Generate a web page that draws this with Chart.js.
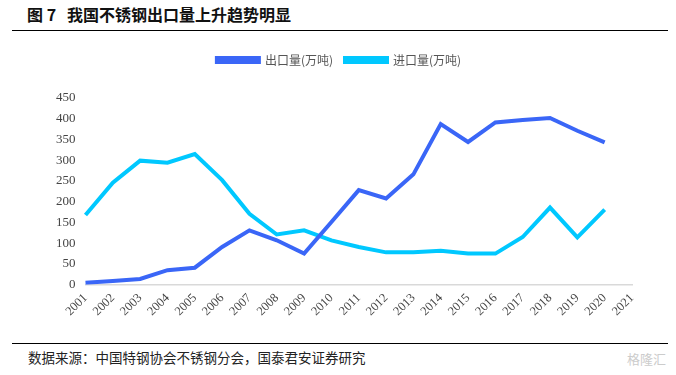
<!DOCTYPE html>
<html>
<head>
<meta charset="utf-8">
<script src="https://cdn.jsdelivr.net/npm/chart.js@4"></script>
<style>
  body { margin: 0; width: 676px; height: 375px; background: #fff; position: relative; overflow: hidden; }
  #title { position: absolute; left: 27px; top: 2px; font: bold 16px "Noto Sans CJK SC"; color: #111; }
  #topline { position: absolute; left: 12px; right: 8px; top: 30px; border-top: 1.5px solid #000; }
  #bottomline { position: absolute; left: 12px; right: 8px; top: 343px; border-top: 1px solid #000; }
  #source { position: absolute; left: 28px; top: 347px; font: 13.5px "Noto Sans CJK SC"; color: #222; }
  #mark { position: absolute; right: 10px; top: 349px; font: 13px "Noto Sans CJK SC"; color: #ccc; }
  #wrap { position: absolute; left: 0; top: 40px; width: 676px; height: 300px; }
</style>
</head>
<body>
<div id="title">图 7&nbsp;&nbsp;&nbsp;我国不锈钢出口量上升趋势明显</div>
<div id="topline"></div>
<div id="wrap"><canvas id="chart"></canvas></div>
<div id="bottomline"></div>
<div id="source">数据来源：中国特钢协会不锈钢分会，国泰君安证券研究</div>
<div id="mark">格隆汇</div>
<script>
// 年份
const years = ['2001','2002','2003','2004','2005','2006','2007','2008','2009','2010','2011',
               '2012','2013','2014','2015','2016','2017','2018','2019','2020','2021'];
// 出口量(万吨)
const exportVol = [5, 9, 14, 35, 41, 91, 131, 107, 75, 151, 228, 208, 266, 387, 344, 391, 397, 402, 371, 343, null];
// 进口量(万吨)
const importVol = [168, 246, 299, 294, 315, 252, 171, 121, 131, 107, 91, 78, 78, 82, 75, 75, 115, 186, 114, 181, null];

const serif = '"Liberation Serif", "Times New Roman", serif';

// 图例与绘图区之间留出空隙
const legendGap = {
    id: 'legendGap',
    beforeInit(chart) {
        const fit = chart.legend.fit;
        chart.legend.fit = function() {
            fit.bind(chart.legend)();
            this.height += 22;
        };
    }
};

const ctx = document.getElementById('chart').getContext('2d');
new Chart(ctx, {
    type: 'line',
    data: {
        labels: years,
        datasets: [{
            label: '出口量(万吨)',
            data: exportVol,
            borderColor: '#3A66F7',
            backgroundColor: '#3A66F7',
            borderWidth: 4,
            pointRadius: 0,
            tension: 0
        }, {
            label: '进口量(万吨)',
            data: importVol,
            borderColor: '#00C8FF',
            backgroundColor: '#00C8FF',
            borderWidth: 4,
            pointRadius: 0,
            tension: 0
        }]
    },
    options: {
        responsive: true,
        maintainAspectRatio: false,
        animation: false,
        layout: { padding: { left: 46, right: 44, top: 2, bottom: 15 } },
        plugins: {
            legend: {
                position: 'top',
                labels: {
                    boxWidth: 42,
                    boxHeight: 4,
                    padding: 12,
                    color: '#555',
                    font: { family: '"Noto Sans CJK SC"', size: 12 }
                }
            },
            tooltip: { enabled: false }
        },
        scales: {
            x: {
                grid: { display: false, drawTicks: false },
                border: { color: '#d9d9d9', width: 1.5 },
                ticks: {
                    maxRotation: 45,
                    minRotation: 45,
                    color: '#444',
                    padding: 6,
                    font: { family: serif, size: 12.5 }
                }
            },
            y: {
                min: 0,
                max: 450,
                grid: { display: false, drawTicks: false },
                border: { display: false },
                ticks: {
                    stepSize: 50,
                    color: '#444',
                    padding: 10,
                    font: { family: serif, size: 13 }
                }
            }
        }
    },
    plugins: [legendGap]
});
</script>
</body>
</html>
